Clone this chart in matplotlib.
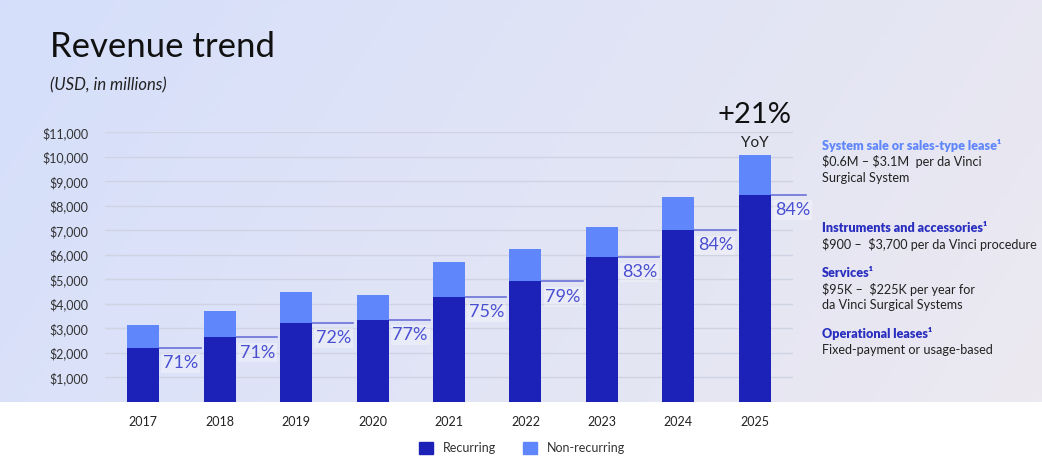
import numpy as np
import matplotlib
matplotlib.use("Agg")
import matplotlib.pyplot as plt
from matplotlib.patches import Patch

plt.rcParams['font.family'] = ['Lato', 'DejaVu Sans']

years = ['2017', '2018', '2019', '2020', '2021', '2022', '2023', '2024', '2025']
total = [3129, 3724, 4479, 4358, 5710, 6222, 7124, 8352, 10060]
recurring_pct = [71, 71, 72, 77, 75, 79, 83, 84, 84]
recurring = [2222, 2644, 3225, 3356, 4283, 4915, 5913, 7016, 8450]
non_recurring = [t - r for t, r in zip(total, recurring)]
yticks = [1000, 2000, 3000, 4000, 5000, 6000, 7000, 8000, 9000, 10000, 11000]

dark = '#1c22b8'
light = '#5f86fb'
pct_col = '#4a4fd2'

W, H = 1042, 457
fig = plt.figure(figsize=(W / 100, H / 100), dpi=100)

# background gradient (top part), white strip at bottom
bg = fig.add_axes([0, 1 - 402 / H, 1, 402 / H])
c1 = np.array([213, 223, 251]) / 255
c2 = np.array([236, 233, 240]) / 255
gx = np.linspace(0, 1, 200)
gy = np.linspace(0, 1, 100)
X, Y = np.meshgrid(gx, gy)
t = np.clip(0.8 * X + 0.2 * Y, 0, 1)[..., None]
img = c1 * (1 - t) + c2 * t
bg.imshow(img, aspect='auto', extent=[0, 1, 0, 1])
bg.axis('off')

ax = fig.add_axes([105 / W, 1 - 402 / H, (793 - 105) / W, (402 - 132.3) / H])
ax.patch.set_alpha(0)
x = np.arange(len(years))
bw = 0.42
ax.bar(x, recurring, bw, color=dark, label='Recurring', zorder=3)
ax.bar(x, non_recurring, bw, bottom=recurring, color=light, label='Non-recurring', zorder=3)

for i, (r, p) in enumerate(zip(recurring, recurring_pct)):
    end = i + 0.75 if i < len(years) - 1 else i + 0.67
    ax.plot([i + bw / 2, end], [r, r], color='#6b72d9', lw=1.2, zorder=2, clip_on=False)
    ax.text(i + bw / 2 + 0.05, r - 300, '%d%%' % p, ha='left', va='top', fontsize=13,
            color=pct_col, zorder=4,
            bbox=dict(boxstyle='square,pad=0.1', fc='white', ec='none', alpha=0.3))

ax.set_xlim(-0.5, 8.5)
ax.set_ylim(0, 11000)
ax.set_yticks(yticks)
ax.set_yticklabels(['${:,}'.format(v) for v in yticks], fontsize=9, color='#333333')
ax.set_xticks(x)
ax.set_xticklabels(years, fontsize=9, color='#222222')
ax.tick_params(axis='y', length=0, pad=12)
ax.tick_params(axis='x', length=0, pad=10)
ax.grid(axis='y', color='#cfd3e3', lw=1, zorder=0)
for s in ax.spines.values():
    s.set_visible(False)

# YoY callout
ax.text(8, 11700, '+21%', ha='center', va='center', fontsize=21,
        color='#111111', clip_on=False)
ax.text(8, 10550, 'YoY', ha='center', va='center', fontsize=11, color='#222222')

fig.text(50 / W, 1 - 47 / H, 'Revenue trend', fontsize=25, fontweight='normal',
         color='#111111', va='center')
fig.text(50 / W, 1 - 85 / H, '(USD, in millions)', fontsize=12, style='italic',
         color='#222222', va='center')

notes = [
    ('System sale or sales-type lease\u00b9', 146, True, light),
    ('\\$0.6M \u2013 \\$3.1M  per da Vinci', 162, False, '#222222'),
    ('Surgical System', 178, False, '#222222'),
    ('Instruments and accessories\u00b9', 228, True, '#2a2fc0'),
    ('\\$900 \u2013  \\$3,700 per da Vinci procedure', 244, False, '#222222'),
    ('Services\u00b9', 273, True, '#2a2fc0'),
    ('\\$95K \u2013  \\$225K per year for', 289, False, '#222222'),
    ('da Vinci Surgical Systems', 305, False, '#222222'),
    ('Operational leases\u00b9', 333, True, '#2a2fc0'),
    ('Fixed-payment or usage-based', 350, False, '#222222'),
]
for txt, yy, bold, col in notes:
    fig.text(822 / W, 1 - yy / H, txt, fontsize=9.1, va='center', color=col,
             fontweight='heavy' if bold else 'normal')

handles = [Patch(color=dark, label='Recurring'), Patch(color=light, label='Non-recurring')]
fig.legend(handles=handles, loc='center', bbox_to_anchor=(522 / W, 1 - 448 / H), ncol=2,
           frameon=False, fontsize=9, handlelength=1.1, handleheight=1.1,
           columnspacing=2.2, handletextpad=0.8, labelcolor='#333333')

fig.savefig('out.png', dpi=100)
